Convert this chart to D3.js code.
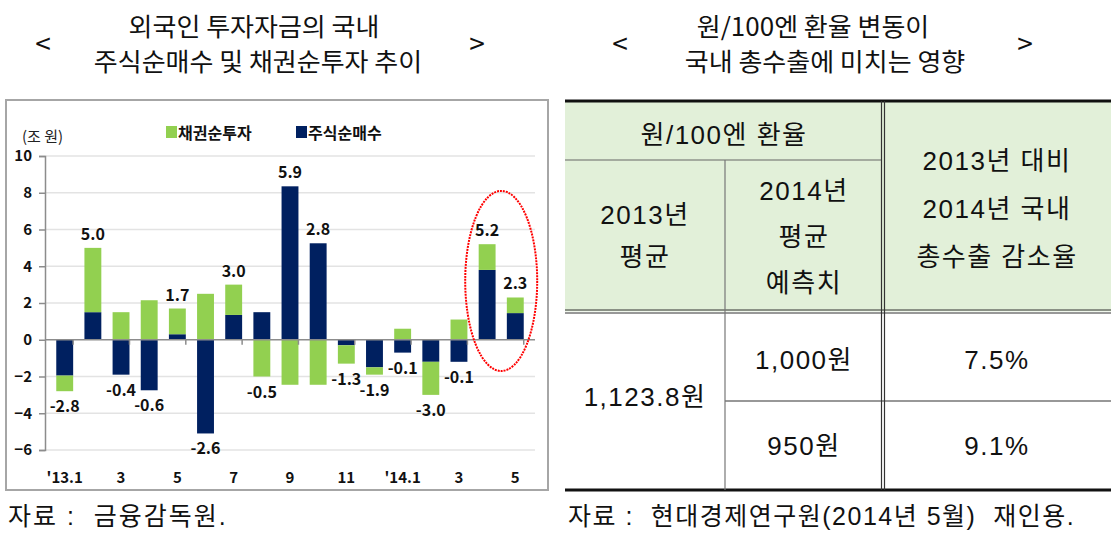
<!DOCTYPE html>
<html>
<head>
<meta charset="utf-8">
<script src="https://cdn.jsdelivr.net/npm/d3@7"></script>
<style>
  html, body { margin: 0; padding: 0; background: #fff; }
  svg { display: block; }
  .kr { font-family: "Noto Sans CJK KR", sans-serif; }
  .tbl { font-family: "Liberation Sans", "Noto Sans CJK KR", sans-serif; font-size: 26px; fill: #111; letter-spacing: 1.5px; }
  .ax { font-family: "Noto Sans CJK KR", sans-serif; font-weight: bold; font-size: 15px; fill: #111; }
</style>
</head>
<body>
<svg width="1111" height="533"></svg>
<script>
document.addEventListener("DOMContentLoaded", function(event) {

// months '13.1 ~ '14.5
var months = ["13.1","13.2","13.3","13.4","13.5","13.6","13.7","13.8","13.9","13.10","13.11","13.12","14.1","14.2","14.3","14.4","14.5"];
var monthLabels = ["'13.1","","3","","5","","7","","9","","11","","'14.1","","3","","5"];
// 주식순매수 (조 원)
var stock = [-1.95, 1.5, -1.9, -2.75, 0.3, -5.1, 1.35, 1.5, 8.35, 5.25, -0.3, -1.5, -0.7, -1.2, -1.2, 3.8, 1.45];
// 채권순투자 (조 원)
var bond = [-0.85, 3.5, 1.5, 2.15, 1.4, 2.5, 1.65, -2.0, -2.45, -2.45, -1.0, -0.4, 0.6, -1.8, 1.1, 1.4, 0.85];
// 합계 라벨
var totals = [-2.8, 5.0, -0.4, -0.6, 1.7, -2.6, 3.0, -0.5, 5.9, 2.8, -1.3, -1.9, -0.1, -3.0, -0.1, 5.2, 2.3];
var yTicks = [-6, -4, -2, 0, 2, 4, 6, 8, 10];

// 표
var rateHeader = "원/100엔 환율";
var avg2013 = "1,123.8원";
var forecast2014 = ["1,000원", "950원"];
var declineRate = ["7.5%", "9.1%"];

var svg = d3.select("svg");

var green = "#92d050", navy = "#002060";

// ---------- titles ----------
function title(cx, lines, lx, rx) {
  var g = svg.append("g").attr("class", "kr").style("font-size", "25px").attr("fill", "#111");
  g.append("text").attr("transform", "translate(" + cx[0] + ",36) scale(1.04,1)").attr("text-anchor", "middle").text(lines[0]);
  g.append("text").attr("transform", "translate(" + cx[1] + ",71) scale(1.04,1)").attr("text-anchor", "middle").text(lines[1]);
  g.append("text").attr("x", lx).attr("y", 54).style("font-size", "28px").attr("text-anchor", "middle").text("<");
  g.append("text").attr("x", rx).attr("y", 54).style("font-size", "28px").attr("text-anchor", "middle").text(">");
}
title([254, 258], ["외국인 투자자금의 국내", "주식순매수 및 채권순투자 추이"], 43, 477);
title([813, 825], ["원/100엔 환율 변동이", "국내 총수출에 미치는 영향"], 620, 1025);

// ---------- chart frame ----------
svg.append("rect").attr("x", 6).attr("y", 100).attr("width", 542).attr("height", 390)
  .attr("fill", "#fff").attr("stroke", "#a6a6a6").attr("stroke-width", 2);

var x = d3.scaleBand().domain(months).range([45, 535]).padding(0.4);
var y = d3.scaleLinear().domain([-6, 10]).range([450, 156]);

// gridlines
svg.append("g").selectAll("line").data(yTicks.filter(function(d) { return d != 0; }))
  .enter().append("line")
  .attr("x1", 45).attr("x2", 535)
  .attr("y1", function(d) { return y(d); }).attr("y2", function(d) { return y(d); })
  .attr("stroke", "#e3e3e3").attr("stroke-width", 1.5);

// y axis
var yAxis = svg.append("g").attr("transform", "translate(45,0)")
  .call(d3.axisLeft(y).tickValues(yTicks).tickSize(6).tickPadding(7));
yAxis.select(".domain").attr("stroke", "#8c8c8c").attr("stroke-width", 1.5);
yAxis.selectAll(".tick line").attr("stroke", "#8c8c8c").attr("stroke-width", 1.5);
yAxis.selectAll("text").attr("class", "ax").attr("font-family", null).attr("font-size", null);

// stacked bars
var rows = months.map(function(m, i) { return { month: m, stock: stock[i], bond: bond[i] }; });
var series = d3.stack().keys(["stock", "bond"]).offset(d3.stackOffsetDiverging)(rows);
var colors = { stock: navy, bond: green };

svg.append("g").selectAll("g").data(series).enter().append("g")
  .attr("fill", function(s) { return colors[s.key]; })
  .selectAll("rect").data(function(s) { return s; }).enter().append("rect")
  .attr("x", function(d) { return x(d.data.month); })
  .attr("width", x.bandwidth())
  .attr("y", function(d) { return y(Math.max(d[0], d[1])); })
  .attr("height", function(d) { return Math.abs(y(d[0]) - y(d[1])); });

// x axis (zero line) with ticks every two months
var step = x.step();
var x0 = 45;
svg.append("line").attr("x1", 45).attr("x2", 535).attr("y1", y(0)).attr("y2", y(0))
  .attr("stroke", "#8c8c8c").attr("stroke-width", 1.5);
var tickIdx = d3.range(1, months.length + 1, 2);
svg.append("g").selectAll("line").data(tickIdx).enter().append("line")
  .attr("x1", function(k) { return x0 + k * step; }).attr("x2", function(k) { return x0 + k * step; })
  .attr("y1", y(0)).attr("y2", y(0) + 5)
  .attr("stroke", "#8c8c8c").attr("stroke-width", 1.5);

svg.append("g").selectAll("text").data(months).enter().append("text")
  .attr("class", "ax")
  .attr("x", function(m) { return x(m) + x.bandwidth() / 2; })
  .attr("y", 483)
  .attr("text-anchor", "middle")
  .text(function(m, i) { return monthLabels[i]; });

// total labels
svg.append("g").selectAll("text").data(rows).enter().append("text")
  .attr("class", "ax").style("font-size", "16px")
  .attr("x", function(d) { return x(d.month) + x.bandwidth() / 2; })
  .attr("y", function(d, i) {
    var top = Math.max(0, d.stock, d.stock > 0 && d.bond > 0 ? d.stock + d.bond : d.bond);
    var bot = Math.min(0, d.stock, d.stock < 0 && d.bond < 0 ? d.stock + d.bond : d.bond);
    return totals[i] >= 0 ? y(top) - 8 : y(bot) + 21;
  })
  .attr("text-anchor", "middle")
  .text(function(d, i) { return totals[i].toFixed(1); });

// unit + legend
svg.append("text").attr("class", "kr").attr("x", 22).attr("y", 142).style("font-size", "15px").attr("fill", "#222").text("(조 원)");
var legend = [{ name: "채권순투자", c: green, x: 166 }, { name: "주식순매수", c: navy, x: 296 }];
var lg = svg.append("g").selectAll("g").data(legend).enter().append("g")
  .attr("transform", function(d) { return "translate(" + d.x + ",126)"; });
lg.append("rect").attr("width", 11).attr("height", 12).attr("fill", function(d) { return d.c; });
lg.append("text").attr("class", "ax").style("font-size", "16px").attr("x", 12).attr("y", 12.5).text(function(d) { return d.name; });

// annotation ellipse around the last two months
svg.append("ellipse")
  .attr("cx", (x("14.4") + x("14.5") + x.bandwidth()) / 2)
  .attr("cy", (y(8.1) + y(-1.7)) / 2)
  .attr("rx", 36).attr("ry", (y(-1.7) - y(8.1)) / 2)
  .attr("fill", "none").attr("stroke", "#ff0000").attr("stroke-width", 2).attr("stroke-dasharray", "2,1");

// ---------- right table ----------
var tx = [565, 725, 883, 1111];
var ty = [101, 160, 311.5, 401, 490];
svg.append("rect").attr("x", tx[0]).attr("y", ty[0]).attr("width", tx[3] - tx[0]).attr("height", ty[2] - ty[0]).attr("fill", "#e2f0d9");

var tbl = svg.append("g");
function hline(x1, x2, yy, w, c) { tbl.append("line").attr("x1", x1).attr("x2", x2).attr("y1", yy).attr("y2", yy).attr("stroke", c).attr("stroke-width", w); }
function vline(xx, y1, y2, w, c) { tbl.append("line").attr("x1", xx).attr("x2", xx).attr("y1", y1).attr("y2", y2).attr("stroke", c).attr("stroke-width", w); }
hline(tx[0], tx[3], ty[0], 3, "#111");
hline(tx[0], tx[2] - 1.5, ty[1], 1.2, "#666");
hline(tx[0], tx[3], ty[2] - 1.5, 1.2, "#333");
hline(tx[0], tx[3], ty[2] + 1.5, 1.2, "#333");
hline(tx[1], tx[3], ty[3], 1.2, "#333");
hline(tx[0], tx[3], ty[4], 3, "#111");
vline(tx[1], ty[1], ty[4], 1.2, "#777");
vline(tx[2] - 1.5, ty[0], ty[4], 1.2, "#333");
vline(tx[2] + 1.5, ty[0], ty[4], 1.2, "#333");

function cell(cx, cy, lines, gap) {
  var n = lines.length;
  lines.forEach(function(t, i) {
    tbl.append("text").attr("class", "tbl").attr("text-anchor", "middle")
      .attr("x", cx).attr("y", cy + (i - (n - 1) / 2) * gap + 9).text(t);
  });
}
cell((tx[0] + tx[2]) / 2, 135, [rateHeader], 47);
cell((tx[0] + tx[1]) / 2, 236, ["2013년", "평균"], 42);
cell((tx[1] + tx[2]) / 2, 237, ["2014년", "평균", "예측치"], 46);
cell((tx[2] + tx[3]) / 2, 209, ["2013년 대비", "2014년 국내", "총수출 감소율"], 48);
cell((tx[0] + tx[1]) / 2, 397, [avg2013], 0);
cell((tx[1] + tx[2]) / 2, 360, [forecast2014[0]], 0);
cell((tx[1] + tx[2]) / 2, 446, [forecast2014[1]], 0);
cell((tx[2] + tx[3]) / 2, 360, [declineRate[0]], 0);
cell((tx[2] + tx[3]) / 2, 446, [declineRate[1]], 0);

// ---------- sources ----------
svg.append("text").attr("class", "tbl").style("font-size", "25px").style("letter-spacing", "2px").attr("x", 8).attr("y", 525)
  .attr("xml:space", "preserve").text("자료 :  금융감독원.");
svg.append("text").attr("class", "tbl").style("font-size", "25px").style("letter-spacing", "1.5px").attr("x", 568).attr("y", 525)
  .attr("xml:space", "preserve").text("자료 :  현대경제연구원(2014년 5월)  재인용.");

});
</script>
</body>
</html>
